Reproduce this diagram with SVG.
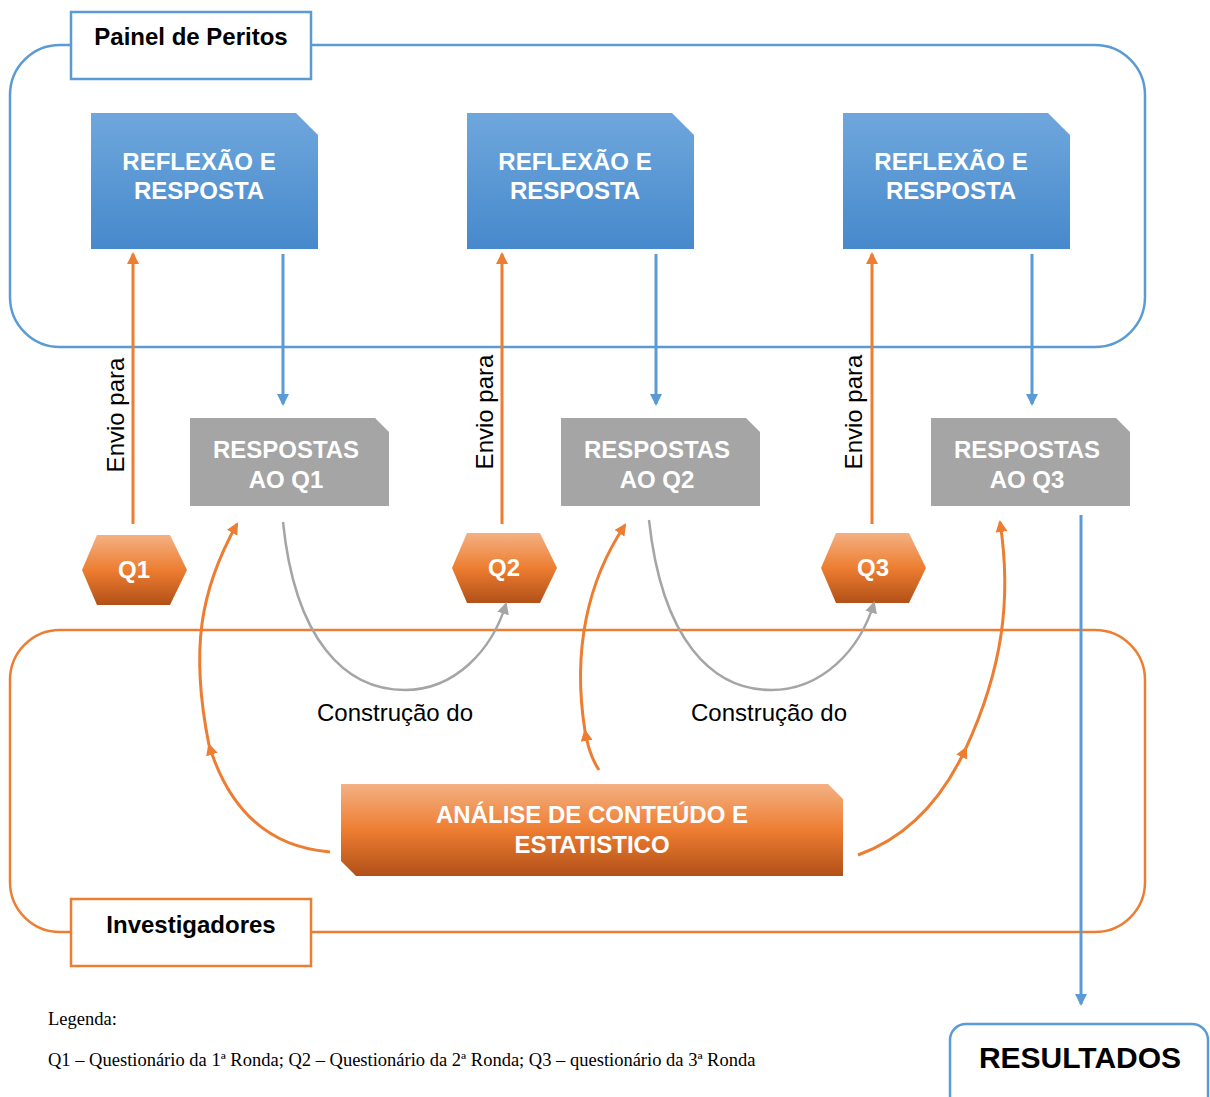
<svg xmlns="http://www.w3.org/2000/svg" width="1210" height="1097" viewBox="0 0 1210 1097">
<defs>
<linearGradient id="gBlue" x1="0" y1="0" x2="0" y2="1"><stop offset="0" stop-color="#6FA7DC"/><stop offset="1" stop-color="#4689CC"/></linearGradient>
<linearGradient id="gOrange" x1="0" y1="0" x2="0" y2="1"><stop offset="0" stop-color="#F4B183"/><stop offset="0.5" stop-color="#ED7D31"/><stop offset="1" stop-color="#B25018"/></linearGradient>
<marker id="aO" viewBox="0 0 12 12" refX="10" refY="6" markerWidth="12" markerHeight="12" markerUnits="userSpaceOnUse" orient="auto"><path d="M0,0 L12,6 L0,12 Z" fill="#ED7D31"/></marker>
<marker id="aB" viewBox="0 0 12 12" refX="10" refY="6" markerWidth="12" markerHeight="12" markerUnits="userSpaceOnUse" orient="auto"><path d="M0,0 L12,6 L0,12 Z" fill="#5B9BD5"/></marker>
<marker id="aG" viewBox="0 0 12 12" refX="10" refY="6" markerWidth="12" markerHeight="12" markerUnits="userSpaceOnUse" orient="auto"><path d="M0,0 L12,6 L0,12 Z" fill="#A5A5A5"/></marker>
</defs>
<style>
.wt{font-family:"Liberation Sans",Arial,sans-serif;font-weight:bold;fill:#fff;font-size:24px;text-anchor:middle}
.bt{font-family:"Liberation Sans",Arial,sans-serif;font-weight:bold;fill:#000;text-anchor:middle}
.lbl{font-family:"Liberation Sans",Arial,sans-serif;fill:#000;font-size:24px;text-anchor:middle}
.ser{font-family:"Liberation Serif","Times New Roman",serif;fill:#000;font-size:18.5px}
.blueline{fill:none;stroke:#5B9BD5;stroke-width:3}
.orline{fill:none;stroke:#ED7D31;stroke-width:3}
.grline{fill:none;stroke:#A5A5A5;stroke-width:2.5}
</style>
<rect width="1210" height="1097" fill="#fff"/>

<g id="painel">
<rect x="10" y="45" width="1135" height="302" rx="50" fill="none" stroke="#5B9BD5" stroke-width="2.5"/>
<rect x="71" y="12" width="240" height="67" fill="#fff" stroke="#5B9BD5" stroke-width="2.5"/>
<text x="191" y="45" class="bt" font-size="24">Painel de Peritos</text>
</g>

<g id="investigadores">
<rect x="10" y="630" width="1135" height="302" rx="50" fill="none" stroke="#ED7D31" stroke-width="2.5"/>
<rect x="71" y="899" width="240" height="67" fill="#fff" stroke="#ED7D31" stroke-width="2.5"/>
<text x="191" y="933" class="bt" font-size="24">Investigadores</text>
</g>

<g id="reflexao1"><path d="M91,113 H296 L318,135 V249 H91 Z" fill="url(#gBlue)"/><text class="wt" x="199" y="170">REFLEXÃO E</text><text class="wt" x="199" y="199">RESPOSTA</text></g>
<g id="reflexao2"><path d="M467,113 H672 L694,135 V249 H467 Z" fill="url(#gBlue)"/><text class="wt" x="575" y="170">REFLEXÃO E</text><text class="wt" x="575" y="199">RESPOSTA</text></g>
<g id="reflexao3"><path d="M843,113 H1048 L1070,135 V249 H843 Z" fill="url(#gBlue)"/><text class="wt" x="951" y="170">REFLEXÃO E</text><text class="wt" x="951" y="199">RESPOSTA</text></g>

<g id="respostas1"><path d="M190,418 H375 L389,432 V506 H190 Z" fill="#A5A5A5"/><text class="wt" x="286" y="458">RESPOSTAS</text><text class="wt" x="286" y="488">AO Q1</text></g>
<g id="respostas2"><path d="M561,418 H746 L760,432 V506 H561 Z" fill="#A5A5A5"/><text class="wt" x="657" y="458">RESPOSTAS</text><text class="wt" x="657" y="488">AO Q2</text></g>
<g id="respostas3"><path d="M931,418 H1116 L1130,432 V506 H931 Z" fill="#A5A5A5"/><text class="wt" x="1027" y="458">RESPOSTAS</text><text class="wt" x="1027" y="488">AO Q3</text></g>

<g id="q1"><polygon points="82,570 97,535 170,535 187,570 170,605 97,605" fill="url(#gOrange)"/><text class="wt" x="134" y="578">Q1</text></g>
<g id="q2"><polygon points="452,568 467,533 540,533 557,568 540,603 467,603" fill="url(#gOrange)"/><text class="wt" x="504" y="576">Q2</text></g>
<g id="q3"><polygon points="821,568 836,533 909,533 926,568 909,603 836,603" fill="url(#gOrange)"/><text class="wt" x="873" y="576">Q3</text></g>

<g id="analise"><path d="M341,784 H828 L843,799 V876 H356 L341,861 Z" fill="url(#gOrange)"/><text class="wt" x="592" y="823">ANÁLISE DE CONTEÚDO E</text><text class="wt" x="592" y="853">ESTATISTICO</text></g>

<g id="resultados"><rect x="950" y="1024" width="258" height="90" rx="16" fill="#fff" stroke="#5B9BD5" stroke-width="2.5"/><text class="bt" x="1080" y="1068" font-size="30">RESULTADOS</text></g>

<g id="connectors">
<line class="orline" x1="133" y1="524" x2="133" y2="254" marker-end="url(#aO)"/>
<line class="orline" x1="502" y1="524" x2="502" y2="254" marker-end="url(#aO)"/>
<line class="orline" x1="872" y1="524" x2="872" y2="254" marker-end="url(#aO)"/>
<line class="blueline" x1="283" y1="254" x2="283" y2="404" marker-end="url(#aB)"/>
<line class="blueline" x1="656" y1="254" x2="656" y2="404" marker-end="url(#aB)"/>
<line class="blueline" x1="1032" y1="254" x2="1032" y2="404" marker-end="url(#aB)"/>
<line class="blueline" x1="1081" y1="515" x2="1081" y2="1004" marker-end="url(#aB)"/>
<path class="grline" d="M283,522 C295,640 345,690 405,690 C455,690 492,650 506,604" marker-end="url(#aG)"/>
<path class="grline" d="M649,520 C662,640 712,690 771,690 C822,690 860,650 874,603" marker-end="url(#aG)"/>
<path class="orline" d="M330,852 Q240,845 209,745" marker-end="url(#aO)"/>
<path class="orline" d="M209,745 C190,650 200,590 237,524" marker-end="url(#aO)"/>
<path class="orline" d="M599,770 Q589,755 585,731" marker-end="url(#aO)"/>
<path class="orline" d="M585,731 C572,650 588,580 625,525" marker-end="url(#aO)"/>
<path class="orline" d="M858,855 Q928,830 966,748" marker-end="url(#aO)"/>
<path class="orline" d="M966,748 C1002,670 1012,600 1000,522" marker-end="url(#aO)"/>
<text class="lbl" transform="translate(124,415) rotate(-90)">Envio para</text>
<text class="lbl" transform="translate(493,412) rotate(-90)">Envio para</text>
<text class="lbl" transform="translate(862,412) rotate(-90)">Envio para</text>
<text class="lbl" x="395" y="721">Construção do</text>
<text class="lbl" x="769" y="721">Construção do</text>
</g>

<g id="legenda">
<text class="ser" x="48" y="1025">Legenda:</text>
<text class="ser" x="48" y="1066">Q1 – Questionário da 1ª Ronda; Q2 – Questionário da 2ª Ronda; Q3 – questionário da 3ª Ronda</text>
</g>
</svg>
